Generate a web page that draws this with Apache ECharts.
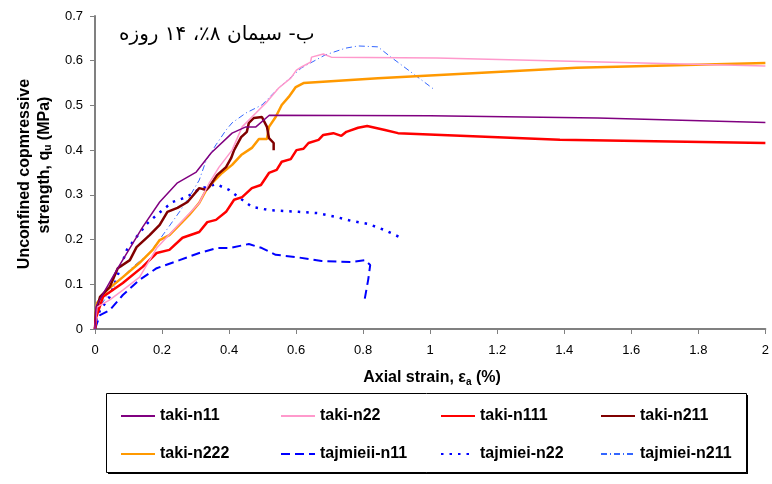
<!DOCTYPE html>
<html>
<head>
<meta charset="utf-8">
<script src="https://cdn.jsdelivr.net/npm/echarts@6/dist/echarts.min.js"></script>
<style>html,body{margin:0;padding:0;background:#fff}#c{width:772px;height:484px}</style>
</head>
<body>
<div id="c"></div>
<script>
// ---- data (strain %, q_u MPa) ----
const xTicks = [0, 0.2, 0.4, 0.6, 0.8, 1, 1.2, 1.4, 1.6, 1.8, 2];
const yTicks = [0, 0.1, 0.2, 0.3, 0.4, 0.5, 0.6, 0.7];
const seriesNames = ['taki-n11', 'taki-n22', 'taki-n111', 'taki-n211', 'taki-n222', 'tajmieii-n11', 'tajmiei-n22', 'tajmiei-n211'];

const takiN11 = [[0,0],[0.003,0.049],[0.01,0.06],[0.068,0.136],[0.142,0.228],[0.193,0.284],[0.246,0.327],[0.302,0.351],[0.347,0.394],[0.409,0.438],[0.45,0.452],[0.48,0.452],[0.52,0.478],[1.0,0.477],[1.5,0.472],[2.0,0.462]];
const takiN22 = [[0,0],[0.006,0.049],[0.044,0.065],[0.083,0.087],[0.133,0.116],[0.184,0.181],[0.243,0.228],[0.311,0.282],[0.341,0.327],[0.370,0.362],[0.409,0.400],[0.439,0.452],[0.48,0.483],[0.513,0.508],[0.548,0.539],[0.584,0.561],[0.601,0.579],[0.616,0.586],[0.643,0.597],[0.646,0.608],[0.681,0.615],[0.705,0.608],[1.02,0.606],[2.0,0.588]];
const takiN111 = [[0,0],[0.003,0.025],[0.024,0.072],[0.083,0.103],[0.142,0.139],[0.184,0.170],[0.222,0.177],[0.261,0.204],[0.311,0.217],[0.335,0.239],[0.361,0.244],[0.391,0.262],[0.415,0.289],[0.439,0.295],[0.468,0.315],[0.495,0.322],[0.519,0.349],[0.542,0.356],[0.557,0.374],[0.584,0.380],[0.601,0.400],[0.622,0.403],[0.637,0.416],[0.667,0.423],[0.681,0.434],[0.711,0.438],[0.735,0.432],[0.75,0.441],[0.785,0.450],[0.812,0.454],[0.865,0.445],[0.904,0.438],[1.387,0.423],[2.0,0.416]];
const takiN211 = [[0,0],[0.003,0.038],[0.015,0.072],[0.044,0.094],[0.068,0.136],[0.104,0.154],[0.124,0.183],[0.163,0.210],[0.193,0.233],[0.216,0.262],[0.246,0.271],[0.276,0.284],[0.311,0.315],[0.332,0.311],[0.341,0.318],[0.364,0.344],[0.391,0.362],[0.406,0.382],[0.415,0.400],[0.436,0.429],[0.453,0.441],[0.459,0.461],[0.474,0.472],[0.498,0.474],[0.513,0.452],[0.519,0.427],[0.533,0.416],[0.533,0.400]];
const takiN222 = [[0,0],[0.003,0.042],[0.006,0.058],[0.036,0.087],[0.083,0.116],[0.133,0.148],[0.172,0.177],[0.193,0.199],[0.222,0.210],[0.252,0.233],[0.281,0.255],[0.311,0.282],[0.332,0.311],[0.350,0.327],[0.379,0.349],[0.409,0.367],[0.436,0.389],[0.468,0.405],[0.489,0.425],[0.513,0.425],[0.519,0.452],[0.539,0.474],[0.557,0.501],[0.578,0.519],[0.599,0.541],[0.622,0.550],[0.844,0.561],[1.437,0.584],[2.0,0.595]];
const tajmieiiN11 = [[0,0],[0.006,0.013],[0.015,0.031],[0.044,0.042],[0.083,0.076],[0.133,0.110],[0.184,0.136],[0.252,0.154],[0.311,0.170],[0.364,0.181],[0.4,0.181],[0.459,0.190],[0.498,0.181],[0.539,0.166],[0.599,0.161],[0.676,0.152],[0.764,0.150],[0.806,0.154],[0.821,0.143],[0.815,0.110],[0.803,0.060]];
const tajmieiN22 = [[0,0],[0.003,0.02],[0.015,0.042],[0.044,0.072],[0.068,0.121],[0.095,0.177],[0.124,0.206],[0.157,0.237],[0.184,0.255],[0.231,0.284],[0.273,0.295],[0.311,0.313],[0.361,0.324],[0.4,0.311],[0.439,0.289],[0.468,0.273],[0.519,0.266],[0.607,0.262],[0.667,0.259],[0.717,0.251],[0.764,0.242],[0.815,0.235],[0.865,0.221],[0.913,0.204]];
const tajmieiN211 = [[0,0],[0.006,0.042],[0.065,0.103],[0.113,0.139],[0.163,0.170],[0.213,0.221],[0.252,0.262],[0.281,0.295],[0.311,0.333],[0.332,0.378],[0.361,0.412],[0.391,0.445],[0.409,0.461],[0.450,0.483],[0.498,0.501],[0.548,0.539],[0.616,0.584],[0.687,0.613],[0.747,0.628],[0.785,0.633],[0.844,0.631],[0.883,0.608],[0.942,0.575],[1.013,0.535]];

const seriesData = [takiN11, takiN22, takiN111, takiN211, takiN222, tajmieiiN11, tajmieiN22, tajmieiN211];

// ---- styles ----
const styles = [
  {color:'#800080', width:1.5, type:'solid'},
  {color:'#ff99cc', width:1.5, type:'solid'},
  {color:'#ff0000', width:2.5, type:'solid'},
  {color:'#800000', width:2.5, type:'solid'},
  {color:'#ff9900', width:2.5, type:'solid'},
  {color:'#0000ff', width:2, type:[9,5]},
  {color:'#0000ff', width:2.5, type:[2.5,6]},
  {color:'#3366ff', width:1, type:[6,3,1,3]}
];
const FONT = 'Liberation Sans, Arial, sans-serif';

const series = seriesNames.map((n, i) => ({
  name: n, type: 'line', data: seriesData[i], showSymbol: false, symbol: 'none',
  smooth: false, z: 10 - i,
  lineStyle: {color: styles[i].color, width: styles[i].width, type: styles[i].type},
  itemStyle: {color: styles[i].color}
}));

const legendPos = [[120,408],[280,408],[440,408],[600,408],[120,446],[280,446],[440,446],[600,446]];
const legends = seriesNames.map((n, i) => ({
  data: [n], left: legendPos[i][0], top: legendPos[i][1], orient: 'horizontal',
  itemWidth: 34, itemHeight: 14, padding: 0,
  itemStyle: {opacity: 0},
  textStyle: {fontFamily: FONT, fontSize: 16, fontWeight: 'bold', color: '#000'},
  selectedMode: false
}));

const chart = echarts.init(document.getElementById('c'), null, {renderer: 'canvas'});
chart.setOption({
  animation: false,
  backgroundColor: '#fff',
  grid: {left: 95, right: 2, top: 16, bottom: 155, containLabel: false},
  xAxis: {
    type: 'value', min: 0, max: 2, interval: 0.2,
    axisLine: {lineStyle: {color: '#808080', width: 2}},
    axisTick: {show: true, length: 5, lineStyle: {color: '#808080', width: 1}},
    splitLine: {show: false},
    axisLabel: {color: '#000', fontFamily: FONT, fontSize: 13, margin: 15,
      formatter: v => String(xTicks.find(t => Math.abs(t - v) < 1e-6) ?? v)}
  },
  yAxis: {
    type: 'value', min: 0, max: 0.7, interval: 0.1,
    axisLine: {show: true, lineStyle: {color: '#808080', width: 2}},
    axisTick: {show: true, length: 5, lineStyle: {color: '#808080', width: 1}},
    splitLine: {show: false},
    axisLabel: {color: '#000', fontFamily: FONT, fontSize: 13, margin: 12,
      formatter: v => String(yTicks.find(t => Math.abs(t - v) < 1e-6) ?? v)}
  },
  legend: legends,
  series: series,
  graphic: [
    {type: 'rect', left: 108, top: 395, shape: {width: 640, height: 79}, style: {fill: '#000'}, z: 0},
    {type: 'rect', left: 106, top: 393, shape: {width: 640, height: 79}, style: {fill: '#fff', stroke: '#000', lineWidth: 1}, z: 1},
    {type: 'text', left: 119, top: 25, z: 20,
      style: {text: 'ب- سیمان ۸٪، ۱۴ روزه', fontFamily: 'DejaVu Sans', fontSize: 20, fill: '#000'}},
    {type: 'text', x: 432, y: 378, z: 20,
      style: {text: '{b|Axial strain, ε}{s|a}{b| (%)}', align: 'center', verticalAlign: 'middle',
        rich: {b: {fontFamily: FONT, fontSize: 16, fontWeight: 'bold', fill: '#000'},
               s: {fontFamily: FONT, fontSize: 10, fontWeight: 'bold', fill: '#000', padding: [8,0,0,0]}}}},
    {type: 'text', x: 25, y: 174, rotation: Math.PI / 2, z: 20,
      style: {text: 'Unconfined copmressive', align: 'center', verticalAlign: 'middle',
        fontFamily: FONT, fontSize: 16, fontWeight: 'bold', fill: '#000'}},
    {type: 'text', x: 45, y: 165, rotation: Math.PI / 2, z: 20,
      style: {text: '{b|strength, q}{s|u}{b| (MPa)}', align: 'center', verticalAlign: 'middle',
        rich: {b: {fontFamily: FONT, fontSize: 16, fontWeight: 'bold', fill: '#000'},
               s: {fontFamily: FONT, fontSize: 10, fontWeight: 'bold', fill: '#000', padding: [7,0,0,0]}}}}
  ]
});
</script>
</body>
</html>
